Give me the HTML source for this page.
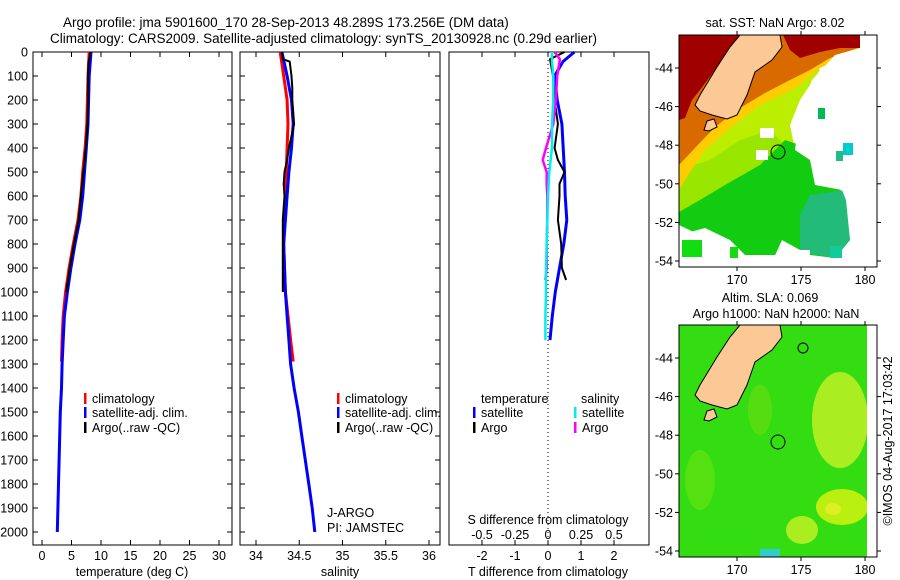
<!DOCTYPE html>
<html><head><meta charset="utf-8"><style>
html,body{margin:0;padding:0;background:#fff;}
svg{display:block;font-family:"Liberation Sans",sans-serif;}
</style></head><body>
<svg id="fig" width="900" height="580" viewBox="0 0 900 580" xmlns="http://www.w3.org/2000/svg">
<text x="63" y="27" font-size="13.5">Argo profile: jma 5901600_170 28-Sep-2013 48.289S 173.256E (DM data)</text>
<text x="50" y="43" font-size="13.5">Climatology: CARS2009. Satellite-adjusted climatology: synTS_20130928.nc (0.29d earlier)</text>

<!-- Map 1 SST -->
<g>
<clipPath id="c1"><rect x="679" y="35" width="198" height="232"/></clipPath>
<g clip-path="url(#c1)">
<rect x="679" y="35" width="198" height="232" fill="#fff"/>
<polygon fill="#bbee00" points="679,100 760,80 810,60 820,70 800,100 790,125 795,150 740,175 700,205 679,235"/>
<polygon fill="#99e600" points="679,170 710,160 740,140 770,130 790,150 740,180 700,205 679,215"/>
<polygon fill="#11cc11" points="679,212 700,200 725,185 760,165 785,140 815,150 820,170 835,178 845,200 850,240 835,258 810,255 800,250 782,240 772,262 745,255 730,240 705,228 690,232 679,240"/>
<polygon fill="#22bb77" points="810,195 845,190 850,240 835,258 800,252 800,215"/>
<polygon fill="#ffcc00" points="679,35 860,35 860,50 820,68 795,88 760,105 730,128 705,150 690,172 679,190"/>
<polygon fill="#d86a00" points="679,35 860,35 858,48 830,58 810,70 790,80 765,93 740,108 715,127 695,148 679,165"/>
<polygon fill="#a00000" points="679,35 740,35 717,67 700,90 692,100 685,118 679,120"/>
<polygon fill="#a00000" points="783,35 860,35 860,48 840,48 820,52 800,58 790,50"/>
<polygon fill="#fff" points="812,80 835,55 860,48 877,35 877,267 855,267 852,215 842,190 815,185 810,160 795,150 800,110"/>
<polygon fill="#fff" points="679,225 700,235 705,228 725,240 735,267 679,267"/>
<rect x="760" y="128" width="14" height="10" fill="#fff"/>
<rect x="756" y="150" width="12" height="10" fill="#fff"/>
<rect x="740" y="255" width="40" height="12" fill="#fff"/>
<rect x="780" y="250" width="30" height="17" fill="#fff"/>
<rect x="818" y="108" width="7" height="11" fill="#00bb55"/>
<rect x="843" y="143" width="10" height="12" fill="#00cccc"/>
<rect x="836" y="151" width="7" height="10" fill="#22bb88"/>
<rect x="830" y="246" width="12" height="12" fill="#11cc99"/>
<rect x="682" y="240" width="20" height="17" fill="#11dd11"/>
<rect x="730" y="247" width="8" height="11" fill="#11dd11"/>
<polygon fill="#fcc896" stroke="#000" stroke-width="1" points="740,35 780,35 782,47 772,60 755,72 747,95 737,115 727,119 712,115 700,111 695,105 700,95 717,67 730,47"/>
<polygon fill="#fcc896" stroke="#000" stroke-width="1" points="707,121 714,119 717,127 709,131 704,130"/>
<circle cx="778" cy="152" r="7" fill="none" stroke="#000" stroke-width="1"/>
</g>
<rect x="679" y="35" width="198" height="232" fill="none" stroke="#000" stroke-width="1"/>
</g>

<!-- Map 2 SLA -->
<g>
<clipPath id="c2"><rect x="679" y="325" width="198" height="232"/></clipPath>
<g clip-path="url(#c2)">
<rect x="679" y="325" width="198" height="232" fill="#33dd11"/>
<ellipse cx="840" cy="420" rx="28" ry="48" fill="#aaee22"/>
<ellipse cx="842" cy="507" rx="26" ry="18" fill="#bbee11"/>
<ellipse cx="833" cy="509" rx="8" ry="6" fill="#ddee22"/>
<ellipse cx="802" cy="530" rx="16" ry="14" fill="#aaee22"/>
<ellipse cx="760" cy="410" rx="12" ry="25" fill="#55dd11"/>
<ellipse cx="700" cy="480" rx="15" ry="30" fill="#55e011"/>
<rect x="760" y="549" width="20" height="8" fill="#33cccc"/>
<rect x="867" y="325" width="10" height="232" fill="#fff"/>
<polygon fill="#fcc896" stroke="#000" stroke-width="1" points="740,325 780,325 782,337 772,350 755,362 747,385 737,405 727,409 712,405 700,401 695,395 700,385 717,357 730,337"/>
<polygon fill="#fcc896" stroke="#000" stroke-width="1" points="707,411 714,409 717,417 709,421 704,420"/>
<ellipse cx="803" cy="348" rx="5" ry="5" fill="none" stroke="#000"/>
<circle cx="778" cy="442" r="7" fill="none" stroke="#000" stroke-width="1"/>
</g>
<rect x="679" y="325" width="198" height="232" fill="none" stroke="#000" stroke-width="1"/>
</g>

<text x="775" y="27" font-size="12.5" text-anchor="middle">sat. SST: NaN Argo: 8.02</text>
<text x="770" y="302" font-size="12.5" text-anchor="middle">Altim. SLA: 0.069</text>
<text x="776" y="318" font-size="12.5" text-anchor="middle">Argo h1000: NaN h2000: NaN</text>
<text transform="translate(892,441) rotate(-90)" font-size="12.5" text-anchor="middle">©IMOS 04-Aug-2017 17:03:42</text>

<g id="axes"></g>
<g id="series"></g>
</svg>
<script>
// ---- data ----
const depthTicks = [0,100,200,300,400,500,600,700,800,900,1000,1100,1200,1300,1400,1500,1600,1700,1800,1900,2000];
const tempTicks = [0,5,10,15,20,25,30];
const salTicks = [34,34.5,35,35.5,36];
const salTickLabels = ["34","34.5","35","35.5","36"];
const tdiffTicks = [-2,-1,0,1,2];
const sdiffTicks = [-0.5,-0.25,0,0.25,0.5];
const sdiffTickLabels = ["-0.5","-0.25","0","0.25","0.5"];
const lonTicks = [170,175,180];
const latTicks = [-44,-46,-48,-50,-52,-54];

const climDepth = [0,100,200,300,400,500,600,700,800,900,1000,1100,1200,1290];
const climTemp  = [8.0,7.8,7.7,7.6,7.3,6.9,6.6,6.1,5.3,4.6,4.0,3.6,3.4,3.3];
const climSal   = [34.28,34.32,34.36,34.37,34.36,34.35,34.34,34.33,34.32,34.33,34.34,34.37,34.40,34.43];
const satDepth  = [0,100,200,300,400,500,600,700,800,900,1000,1100,1200,1300,1400,1500,1600,1700,1800,1900,2000];
const satTemp   = [8.3,8.0,7.9,7.8,7.5,7.2,6.9,6.4,5.6,4.9,4.3,3.8,3.6,3.4,3.3,3.1,3.0,2.9,2.8,2.7,2.6];
const satSal    = [34.30,34.36,34.41,34.43,34.41,34.38,34.36,34.34,34.32,34.33,34.34,34.36,34.38,34.40,34.44,34.49,34.53,34.57,34.61,34.65,34.68];
const argoDepth = [0,30,40,100,150,200,300,400,450,500,550,600,700,800,900,1000];
const argoTemp  = [8.2,8.0,7.9,7.8,7.8,7.8,7.7,7.4,7.2,7.0,6.8,6.6,6.2,5.4,4.7,4.1];
const argoSal   = [34.30,34.31,34.39,34.41,34.42,34.42,34.44,34.38,34.36,34.33,34.32,34.33,34.31,34.31,34.31,34.31];

const dDepth    = [0,40,100,200,300,400,500,600,700,800,900,1000,1100,1200];
const tdiffSat  = [0.8,0.45,0.2,0.28,0.42,0.46,0.5,0.52,0.57,0.48,0.35,0.22,0.13,0.06];
const sdiffSat  = [0.03,0.03,0.04,0.04,0.03,0.03,0.01,0.0,-0.005,-0.01,-0.015,-0.015,-0.02,-0.02];
const aDepth    = [0,30,100,200,300,400,450,500,550,600,700,800,900,950];
const tdiffArgo = [0.5,0.06,0.15,0.2,0.3,0.2,0.3,0.5,0.35,0.35,0.3,0.4,0.42,0.55];
const sdiffArgo = [0.05,0.09,0.07,0.06,0.04,-0.015,-0.04,-0.01,-0.01,-0.005,-0.005,-0.01,-0.01,-0.02];

// ---- scales ----
const yD = d => 52 + d*0.24;
const xT = t => 42 + t*5.9;
const xS = s => 256 + (s-34)*86.5;
const xTd = v => 548 + v*33;
const xSd = v => 548 + v*132;
const xLon = l => 737 + (l-170)*12.8;
const yLat1 = l => 68 + (-44 - l)*19.3;
const yLat2 = l => 358 + (-44 - l)*19.3;

const NS = "http://www.w3.org/2000/svg";
const axes = document.getElementById('axes');
const series = document.getElementById('series');
function mk(tag, attrs, parent, txt){
  const e = document.createElementNS(NS, tag);
  for (const k in attrs) e.setAttribute(k, attrs[k]);
  if (txt !== undefined) e.textContent = txt;
  parent.appendChild(e);
  return e;
}
const panels = [[33,232],[240,440],[449,649]];
const top_=52, bot=545;
panels.forEach((p,i)=>{
  const r = mk('rect',{x:p[0],y:top_,width:p[1]-p[0],height:bot-top_,fill:'none',stroke:'#000','stroke-width':1},axes);
  
  
  if (i<2){
    depthTicks.forEach(d=>{
      mk('line',{x1:p[0],x2:p[0]+5,y1:yD(d),y2:yD(d),stroke:'#000'},axes);
      mk('line',{x1:p[1],x2:p[1]-5,y1:yD(d),y2:yD(d),stroke:'#000'},axes);
    });
  }
});
depthTicks.forEach(d=>{
  const t = mk('text',{x:28,y:yD(d)+4.5,'font-size':12.5,'text-anchor':'end'},axes,String(d));
  
  
});
function xticks(vals, labels, f, labY){
  vals.forEach((v,i)=>{
    const x=f(v);
    mk('line',{x1:x,x2:x,y1:top_,y2:top_+5,stroke:'#000'},axes);
    mk('line',{x1:x,x2:x,y1:bot,y2:bot-5,stroke:'#000'},axes);
    const t = mk('text',{x:x,y:labY,'font-size':12.5,'text-anchor':'middle'},axes,labels[i]);
    
    
  });
}
xticks(tempTicks, tempTicks.map(String), xT, 560);
xticks(salTicks, salTickLabels, xS, 560);
xticks(tdiffTicks, tdiffTicks.map(String), xTd, 560);
sdiffTicks.forEach((v,i)=>{
  const t = mk('text',{x:xSd(v),y:539,'font-size':12.5,'text-anchor':'middle'},axes,sdiffTickLabels[i]);
  
  
});
[[132,'temperature (deg C)','x-axis-title-temperature'],[340,'salinity','x-axis-title-salinity'],[548,'T difference from climatology','x-axis-title-t-diff']].forEach(a=>{
  const t = mk('text',{x:a[0],y:576,'font-size':12.5,'text-anchor':'middle'},axes,a[1]);
  
  
});
let st = mk('text',{x:548,y:524,'font-size':12.5,'text-anchor':'middle'},axes,'S difference from climatology');


let dl = mk('line',{x1:548,x2:548,y1:top_,y2:bot,stroke:'#000','stroke-dasharray':'1,3'},axes);


st = mk('text',{x:327,y:517,'font-size':12.5},axes,'J-ARGO');


st = mk('text',{x:327,y:532,'font-size':12.5},axes,'PI: JAMSTEC');



// map ticks
[[35,267,yLat1],[325,557,yLat2]].forEach((m,mi)=>{
  lonTicks.forEach(l=>{
    const x=xLon(l);
    mk('line',{x1:x,x2:x,y1:m[0]-4,y2:m[0],stroke:'#000'},axes);
    mk('line',{x1:x,x2:x,y1:m[1],y2:m[1]+4,stroke:'#000'},axes);
    const t = mk('text',{x:x,y:m[1]+17,'font-size':12.5,'text-anchor':'middle'},axes,String(l));
    
    
  });
  latTicks.forEach(l=>{
    const y=m[2](l);
    mk('line',{x1:675,x2:679,y1:y,y2:y,stroke:'#000'},axes);
    mk('line',{x1:877,x2:881,y1:y,y2:y,stroke:'#000'},axes);
    const t = mk('text',{x:673,y:y+4.5,'font-size':12.5,'text-anchor':'end'},axes,String(l));
    
    
  });
});

function line(ds, vs, fx, color, w, name){
  const pts = ds.map((d,i)=>fx(vs[i]).toFixed(1)+','+yD(d).toFixed(1)).join(' ');
  const e = mk('polyline',{points:pts,fill:'none',stroke:color,'stroke-width':w,'stroke-linejoin':'round'},series);
  
  
}
line(climDepth, climTemp, xT, '#ff0000', 3, 'temp-climatology-line');
line(satDepth, satTemp, xT, '#0000ff', 3, 'temp-satellite-line');
line(argoDepth, argoTemp, xT, '#000', 2, 'temp-argo-line');
line(climDepth, climSal, xS, '#ff0000', 3, 'sal-climatology-line');
line(satDepth, satSal, xS, '#0000ff', 3, 'sal-satellite-line');
line(argoDepth, argoSal, xS, '#000', 2, 'sal-argo-line');
line(dDepth, tdiffSat, xTd, '#0000ff', 3, 'tdiff-satellite-line');
line(aDepth, tdiffArgo, xTd, '#000', 2, 'tdiff-argo-line');
line(aDepth, sdiffArgo, xSd, '#ff00ff', 2.5, 'sdiff-argo-line');
line(dDepth, sdiffSat, xSd, '#00eeee', 2.5, 'sdiff-satellite-line');

function legend(x, y, color, label){
  const b = mk('rect',{x:x,y:y-10,width:2.5,height:11,fill:color},series);
  
  
  const t = mk('text',{x:x+8,y:y,'font-size':12.5},series,label);
  
  
}
[84,337].forEach(x0=>{
  legend(x0, 403, '#ff0000', 'climatology');
  legend(x0, 417, '#0000ff', 'satellite-adj. clim.');
  legend(x0, 432, '#000', 'Argo(..raw -QC)');
});
st = mk('text',{x:481,y:403,'font-size':12.5},series,'temperature');


st = mk('text',{x:581,y:403,'font-size':12.5},series,'salinity');


legend(473, 417, '#0000ff', 'satellite');
legend(473, 432, '#000', 'Argo');
legend(574, 417, '#00eeee', 'satellite');
legend(574, 432, '#ff00ff', 'Argo');
</script>
</body></html>
